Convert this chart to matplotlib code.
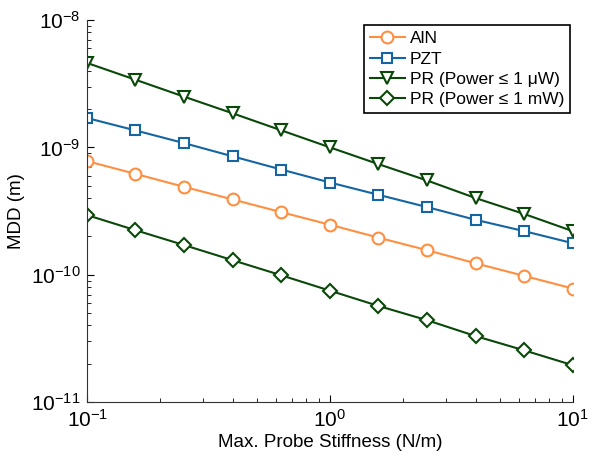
import numpy as np
import matplotlib
matplotlib.use("Agg")
import matplotlib.pyplot as plt

plt.rcParams['font.family'] = ['Liberation Sans', 'DejaVu Sans']
plt.rcParams['mathtext.fontset'] = 'custom'
plt.rcParams['mathtext.rm'] = 'Liberation Sans'
plt.rcParams['mathtext.it'] = 'Liberation Sans:italic'

# probe stiffness (N/m)
stiffness = [0.1, 0.158, 0.251, 0.398, 0.631, 1.0, 1.58, 2.51, 3.98, 6.31, 10.0]

# minimum detectable displacement (m)
mdd_aln = [7.8e-10, 6.2e-10, 4.9e-10, 3.9e-10, 3.1e-10, 2.47e-10, 1.96e-10, 1.56e-10, 1.23e-10, 9.8e-11, 7.8e-11]
mdd_pzt = [1.7e-9, 1.36e-9, 1.08e-9, 8.5e-10, 6.7e-10, 5.3e-10, 4.25e-10, 3.4e-10, 2.7e-10, 2.2e-10, 1.77e-10]
mdd_pr_uw = [4.6e-9, 3.4e-9, 2.5e-9, 1.85e-9, 1.36e-9, 1.0e-9, 7.4e-10, 5.5e-10, 4.0e-10, 3.0e-10, 2.2e-10]
mdd_pr_mw = [2.94e-10, 2.24e-10, 1.71e-10, 1.3e-10, 9.9e-11, 7.5e-11, 5.7e-11, 4.4e-11, 3.3e-11, 2.55e-11, 1.95e-11]

orange = '#FF8F40'
blue = '#1565A3'
green = '#0A480A'

fig = plt.figure(figsize=(5.93, 4.66), dpi=100)
ax = fig.add_axes([0.147, 0.137, 0.819, 0.82])

ax.loglog(stiffness, mdd_aln, '-o', color=orange, lw=1.5, ms=8.5, mfc='white', mew=1.5, label='AlN')
ax.loglog(stiffness, mdd_pzt, '-s', color=blue, lw=1.5, ms=7, mfc='white', mew=1.5, label='PZT')
ax.loglog(stiffness, mdd_pr_uw, '-v', color=green, lw=1.5, ms=9, mfc='white', mew=1.5, label='PR (Power \u2264 1 \u03bcW)')
ax.loglog(stiffness, mdd_pr_mw, '-D', color=green, lw=1.5, ms=7, mfc='white', mew=1.5, label='PR (Power \u2264 1 mW)')

ax.set_xlim(0.1, 10)
ax.set_ylim(1e-11, 1e-8)
ax.spines['top'].set_visible(False)
ax.spines['right'].set_visible(False)
for s in ['left', 'bottom']:
    ax.spines[s].set_color('#333333')
ax.tick_params(which='both', direction='in', labelsize=15, pad=5)
ax.tick_params(which='major', length=5)
ax.tick_params(which='minor', length=3)
ax.set_xlabel('Max. Probe Stiffness (N/m)', fontsize=13.5, labelpad=2)
ax.set_ylabel('MDD (m)', fontsize=13.5, labelpad=4)

leg = ax.legend(loc='upper right', bbox_to_anchor=(0.995, 0.987), borderaxespad=0, fontsize=12.5,
                fancybox=False, edgecolor='black', framealpha=1, handlelength=2.0, handletextpad=0.3,
                borderpad=0.35, labelspacing=0.3)
leg.get_frame().set_linewidth(1.2)

fig.savefig('out.png', dpi=100)
